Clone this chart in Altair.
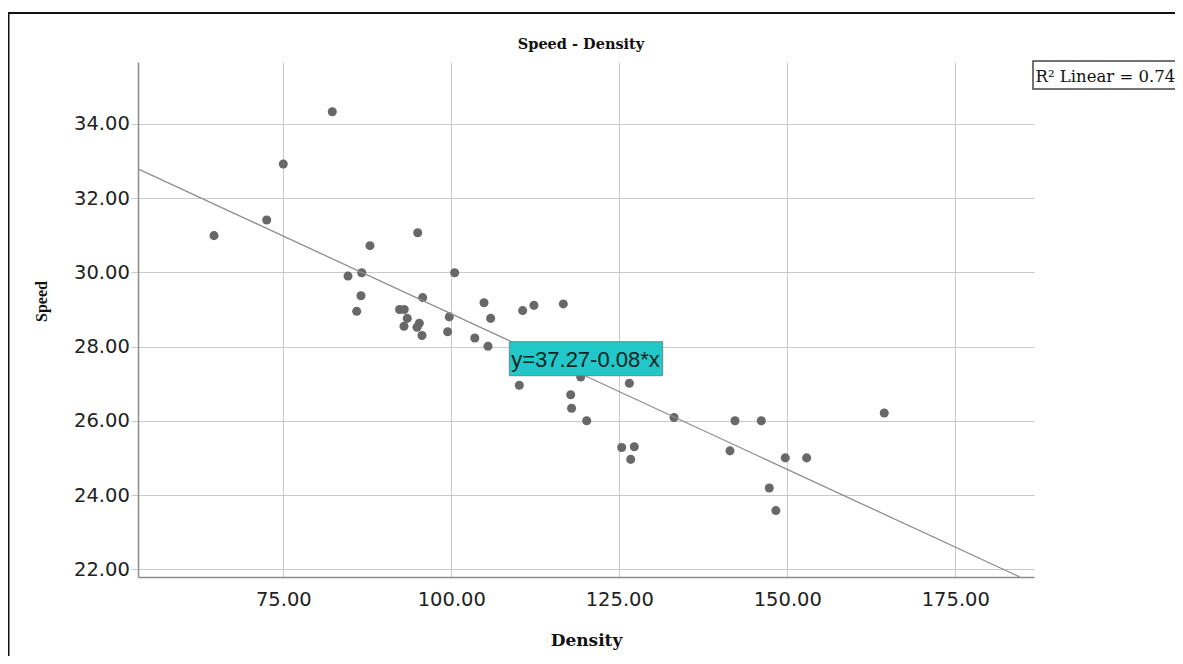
import altair as alt
import pandas as pd

# ---- data ----
density = [64.69, 72.53, 75.0, 82.29, 87.9, 95.0, 84.63, 86.67, 100.5, 86.56,
           85.92, 95.74, 92.3, 93.0, 93.45, 92.96, 95.24, 94.9, 95.64, 99.7,
           99.46, 103.5, 105.46, 104.87, 105.86, 110.62, 112.3, 116.67, 110.12, 119.26,
           117.77, 117.9, 120.15, 126.5, 133.14, 125.36, 127.23, 126.7, 142.22, 146.13,
           164.43, 141.47, 149.7, 152.88, 147.32, 148.3]
speed = [30.99, 31.41, 32.92, 34.33, 30.72, 31.07, 29.90, 29.99, 29.99, 29.37,
         28.95, 29.32, 29.0, 29.0, 28.76, 28.55, 28.63, 28.52, 28.30, 28.80,
         28.40, 28.23, 28.01, 29.18, 28.76, 28.97, 29.11, 29.15, 26.96, 27.18,
         26.70, 26.34, 26.0, 27.01, 26.09, 25.28, 25.30, 24.96, 26.0, 26.0,
         26.21, 25.19, 25.0, 25.0, 24.19, 23.58]

fit_x = [53.38, 184.6]
fit_y = [32.79, 21.79]

x_ticks = [75, 100, 125, 150, 175]
y_ticks = [22, 24, 26, 28, 30, 32, 34]
x_domain = [53.38, 186.71]
y_domain = [21.79, 35.67]

title_text = "Speed - Density"
eq_text = "y=37.27-0.08*x"
r2_text = "R\u00b2 Linear = 0.74"

W, H = 896, 515
PAD = {"left": 130, "top": 54, "right": 141, "bottom": 79}

pts = pd.DataFrame({"Density": density, "Speed": speed})
fit = pd.DataFrame({"Density": fit_x, "Speed": fit_y})
one = pd.DataFrame({"k": [0]})

grid_col = "#c9c9c9"

xenc = alt.X("Density:Q",
             scale=alt.Scale(domain=x_domain, nice=False, zero=False),
             axis=alt.Axis(values=x_ticks, format=".2f", grid=True, gridColor=grid_col,
                           gridWidth=1, domainColor="#8c8c8c", domainWidth=1.5,
                           ticks=False, tickSize=0, labelFont="DejaVu Sans",
                           labelFontSize=19.5, labelColor="#222222", labelPadding=13.5,
                           title="Density", titleFont="DejaVu Serif", titleFontWeight="bold",
                           titleFontSize=17, titleColor="#111111",
                           titleBaseline="alphabetic", titleY=68))
yenc = alt.Y("Speed:Q",
             scale=alt.Scale(domain=y_domain, nice=False, zero=False),
             axis=alt.Axis(values=y_ticks, format=".2f", grid=True, gridColor=grid_col,
                           gridWidth=1, domainColor="#8c8c8c", domainWidth=1.5,
                           ticks=True, tickSize=7, tickColor=grid_col,
                           labelFont="DejaVu Sans", labelFontSize=19.5,
                           labelColor="#222222", labelPadding=1.7,
                           title="Speed", titleFont="Liberation Serif",
                           titleFontWeight="bold", titleFontSize=16, titleColor="#111111",
                           titleAngle=270, titleBaseline="alphabetic", titleAlign="center",
                           titleX=-92, titleY=239))

points = alt.Chart(pts).mark_circle(size=82, color="#686868", opacity=1).encode(x=xenc, y=yenc)

line = alt.Chart(fit).mark_line(color="#8e8e8e", strokeWidth=1.3).encode(
    x="Density:Q", y="Speed:Q")

eq_box = alt.Chart(one).mark_rect(fill="#22c7c7", stroke="#6a8a8a", strokeWidth=1).encode(
    x=alt.value(371.3), x2=alt.value(524.7), y=alt.value(279.7), y2=alt.value(313.7))
eq_lbl = alt.Chart(one).mark_text(text=eq_text, font="Liberation Sans", fontSize=22,
                                  color="#0d2424", align="center",
                                  baseline="alphabetic").encode(
    x=alt.value(447.5), y=alt.value(305.3))

r2_box = alt.Chart(one).mark_rect(fill="white", stroke="#444444", strokeWidth=1.5).encode(
    x=alt.value(895), x2=alt.value(1080), y=alt.value(-1), y2=alt.value(27))
r2_lbl = alt.Chart(one).mark_text(text=r2_text, font="DejaVu Serif", fontSize=16.5,
                                  color="#111111", align="left",
                                  baseline="alphabetic").encode(
    x=alt.value(897.5), y=alt.value(20))

title_lbl = alt.Chart(one).mark_text(text=title_text, font="DejaVu Serif", fontWeight="bold",
                                     fontSize=14.5, color="#111111", align="center",
                                     baseline="alphabetic").encode(
    x=alt.value(443), y=alt.value(-13))

frame_left = alt.Chart(one).mark_rule(color="#111111", strokeWidth=2).encode(
    x=alt.value(-129.5), y=alt.value(-50), y2=alt.value(H + 100))
frame_top = alt.Chart(one).mark_rule(color="#111111", strokeWidth=2.2).encode(
    x=alt.value(-130.5), x2=alt.value(W + 160), y=alt.value(-49))

chart = alt.layer(points, line, eq_box, eq_lbl, r2_box, r2_lbl, title_lbl,
                  frame_left, frame_top).properties(
    width=W, height=H,
    autosize=alt.AutoSizeParams(type="none"),
    padding=PAD,
    background="white",
).configure_view(strokeOpacity=0)

chart.save("out.html", embed_options={"renderer": "svg", "actions": False})
